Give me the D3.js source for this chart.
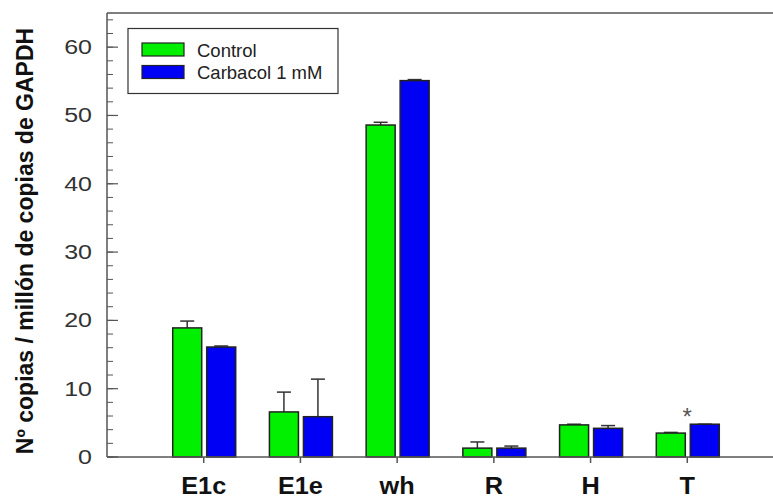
<!DOCTYPE html>
<html><head><meta charset="utf-8">
<script src="https://cdn.jsdelivr.net/npm/d3@7"></script>
<style>body{margin:0;background:#fff}svg{display:block}</style>
</head><body>
<script>
const categories = ["E1c","E1e","wh","R","H","T"];
const controlValues = [18.9, 6.6, 48.6, 1.3, 4.7, 3.5];
const controlErrors = [1.0, 2.9, 0.4, 0.9, 0.1, 0.1];
const carbacolValues = [16.1, 5.9, 55.1, 1.3, 4.2, 4.8];
const carbacolErrors = [0.15, 5.5, 0.15, 0.3, 0.4, 0];
const seriesNames = ["Control", "Carbacol 1 mM"];
const yTicks = [0,10,20,30,40,50,60];
const significant = ["T"];

(function(){
const W = 773, H = 499;
const svg = d3.select("body").append("svg").attr("width", W).attr("height", H);
const pL = 107, pR = 784, pT = 13, pB = 457;
const x = d3.scalePoint().domain(categories).range([pL, pR]).padding(1);
const y = d3.scaleLinear().domain([0, 65]).range([pB, pT]);
const green = "#00f000", blue = "#0000f5";
const axisCol = "#555";

svg.append("line").attr("x1", pL).attr("x2", pR).attr("y1", pT).attr("y2", pT).attr("stroke", axisCol).attr("stroke-width", 1.5);
svg.append("line").attr("x1", pR).attr("x2", pR).attr("y1", pT).attr("y2", pB).attr("stroke", axisCol).attr("stroke-width", 1.5);

const minor = d3.range(0, 65.1, 2);
const g = svg.append("g");
g.selectAll(".minor").data(minor).join("line").attr("class","minor")
  .attr("x1", pL).attr("x2", pL + 6).attr("y1", d => y(d)).attr("y2", d => y(d))
  .attr("stroke", axisCol).attr("stroke-width", 1);
g.selectAll(".major").data(yTicks).join("line").attr("class","major")
  .attr("x1", pL).attr("x2", pL + 11).attr("y1", d => y(d)).attr("y2", d => y(d))
  .attr("stroke", axisCol).attr("stroke-width", 1.2);
g.selectAll(".rmajor").data(yTicks).join("line").attr("class","rmajor")
  .attr("x1", pR - 11).attr("x2", pR).attr("y1", d => y(d)).attr("y2", d => y(d))
  .attr("stroke", axisCol).attr("stroke-width", 1.2);
g.selectAll(".rminor").data(minor).join("line").attr("class","rminor")
  .attr("x1", pR - 6).attr("x2", pR).attr("y1", d => y(d)).attr("y2", d => y(d))
  .attr("stroke", axisCol).attr("stroke-width", 1);
g.selectAll("text").data(yTicks).join("text")
  .attr("x", 0).attr("y", 0).attr("dy", "0.35em")
  .attr("text-anchor", "end").attr("font-family", "Liberation Sans, Arial, sans-serif")
  .attr("font-size", 20).attr("fill", "#333")
  .attr("transform", d => `translate(92,${y(d)}) scale(1.25,1)`)
  .text(d => d);

svg.append("line").attr("x1", pL).attr("x2", pL).attr("y1", pT).attr("y2", pB).attr("stroke", axisCol).attr("stroke-width", 1.5);

const series = [
  {vals: controlValues, errs: controlErrors, color: green, off: -31},
  {vals: carbacolValues, errs: carbacolErrors, color: blue, off: 3}
];
const bw = 29;
series.forEach(s => {
  const bg = svg.append("g");
  bg.selectAll("line.err").data(categories).join("line").attr("class","err")
    .attr("x1", c => x(c) + s.off + bw/2).attr("x2", c => x(c) + s.off + bw/2)
    .attr("y1", (c,i) => y(s.vals[i])).attr("y2", (c,i) => y(s.vals[i] + s.errs[i]))
    .attr("stroke", "#333").attr("stroke-width", 1.5);
  bg.selectAll("line.cap").data(categories).join("line").attr("class","cap")
    .attr("x1", c => x(c) + s.off + bw/2 - 7).attr("x2", c => x(c) + s.off + bw/2 + 7)
    .attr("y1", (c,i) => y(s.vals[i] + s.errs[i])).attr("y2", (c,i) => y(s.vals[i] + s.errs[i]))
    .attr("stroke", "#333").attr("stroke-width", 1.5);
  bg.selectAll("rect").data(categories).join("rect")
    .attr("x", c => x(c) + s.off).attr("width", bw)
    .attr("y", (c,i) => y(s.vals[i])).attr("height", (c,i) => y(0) - y(s.vals[i]))
    .attr("fill", s.color).attr("stroke", "#222").attr("stroke-width", 1.5);
});

svg.append("line").attr("x1", pL).attr("x2", pR).attr("y1", pB).attr("y2", pB).attr("stroke", axisCol).attr("stroke-width", 1.5);
svg.selectAll(".xt").data(categories).join("line").attr("class","xt")
  .attr("x1", c => x(c)).attr("x2", c => x(c)).attr("y1", pB).attr("y2", pB + 6)
  .attr("stroke", axisCol).attr("stroke-width", 1.5);
svg.selectAll(".xl").data(categories).join("text").attr("class","xl")
  .attr("x", c => x(c)).attr("y", 494).attr("text-anchor", "middle")
  .attr("font-family", "Liberation Sans, Arial, sans-serif").attr("font-weight", "bold")
  .attr("font-size", 23).attr("fill", "#111")
  .attr("transform", c => `translate(${x(c)},0) scale(1.1,1) translate(${-x(c)},0)`)
  .text(c => c);

svg.selectAll(".sig").data(significant).join("text").attr("class","sig")
  .attr("x", c => x(c)).attr("y", c => y(carbacolValues[categories.indexOf(c)]) + 1)
  .attr("text-anchor", "middle").attr("font-family", "Liberation Sans, Arial, sans-serif")
  .attr("font-size", 24).attr("fill", "#555").text("*");

svg.append("text").attr("transform", `translate(33,${(25+457)/2}) rotate(-90)`)
  .attr("text-anchor", "middle").attr("font-family", "Liberation Sans, Arial, sans-serif")
  .attr("font-weight", "bold").attr("font-size", 23).attr("fill", "#111")
  .text("Nº copias / millón de copias de GAPDH");

const lg = svg.append("g");
lg.append("rect").attr("x", 128).attr("y", 28.5).attr("width", 210).attr("height", 65)
  .attr("fill", "#fff").attr("stroke", "#333").attr("stroke-width", 1.2);
const lcolors = [green, blue];
seriesNames.forEach((n, i) => {
  lg.append("rect").attr("x", 142).attr("y", 43 + i * 22.5).attr("width", 42).attr("height", 13)
    .attr("fill", lcolors[i]).attr("stroke", "#222").attr("stroke-width", 1.2);
  lg.append("text").attr("x", 197).attr("y", 56.5 + i * 22.5)
    .attr("font-family", "Liberation Sans, Arial, sans-serif").attr("font-size", 18.5)
    .attr("fill", "#222").text(n);
});
})();
</script>
</body></html>
